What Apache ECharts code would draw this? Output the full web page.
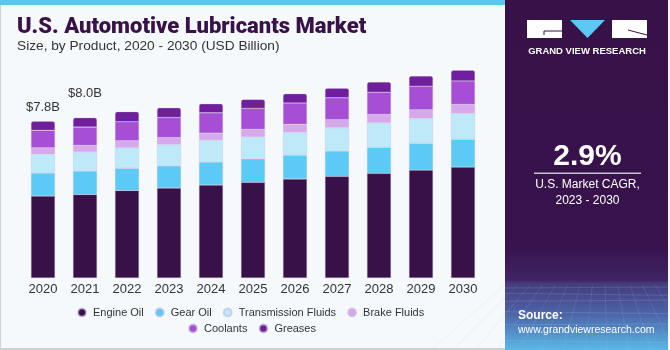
<!DOCTYPE html>
<html>
<head>
<meta charset="utf-8">
<script src="https://cdn.jsdelivr.net/npm/echarts@6/dist/echarts.min.js"></script>
<style>html,body{margin:0;padding:0;background:#F5F9FC}#c{width:670px;height:350px}</style>
</head>
<body>
<div id="c"></div>
<script>
const years = ['2020','2021','2022','2023','2024','2025','2026','2027','2028','2029','2030'];
const engineOil = [4.08,4.16,4.36,4.48,4.63,4.76,4.93,5.06,5.21,5.37,5.52];
const gearOil = [1.14,1.16,1.10,1.10,1.14,1.17,1.18,1.26,1.29,1.33,1.38];
const transmissionFluids = [0.94,0.95,1.02,1.06,1.09,1.09,1.14,1.16,1.22,1.24,1.29];
const brakeFluids = [0.32,0.33,0.35,0.35,0.35,0.38,0.40,0.40,0.42,0.43,0.45];
const coolants = [0.87,0.91,0.95,1.00,1.01,1.04,1.06,1.09,1.11,1.18,1.17];
const greases = [0.45,0.47,0.50,0.48,0.45,0.45,0.46,0.48,0.50,0.50,0.53];
const totalLabels = ['$7.8B','$8.0B','','','','','','','','',''];
const seriesNames = ['Engine Oil','Gear Oil','Transmission Fluids','Brake Fluids','Coolants','Greases'];
const seriesColors = ['#371148','#5BCBF5','#BDE9F9','#D7A9EC','#A64ED6','#6F1F9B'];
const seriesData = [engineOil,gearOil,transmissionFluids,brakeFluids,coolants,greases];
const labelDistance = [7,18];

const FONT = 'Liberation Sans';
const chart = echarts.init(document.getElementById('c'), null, {renderer:'canvas'});

const series = seriesData.map((arr,i)=>{
  const s = {
    name: seriesNames[i], type:'bar', stack:'total', barWidth:24,
    itemStyle:{color:seriesColors[i], borderColor:'rgba(200,185,220,0.6)', borderWidth:0.5},
    emphasis:{disabled:true},
    data: arr.slice()
  };
  if (i === seriesData.length-1) {
    s.itemStyle.borderRadius = [2,2,0,0];
    s.data = arr.map((v,j)=> totalLabels[j] ? {
      value:v,
      label:{show:true, position:'top', distance:labelDistance[j], formatter: totalLabels[j],
             fontFamily:FONT, fontSize:13, color:'#333'}
    } : v);
  }
  return s;
});

// decorative mesh lines for the panel footer
const mesh = [];
for (let k = 0; k < 7; k++) {
  const y = 288 + k * k * 1.3 + k * 4;
  mesh.push({type:'line', shape:{x1:505,y1:y,x2:668,y2:y+ (k%2 ? 2 : -1)}, style:{stroke:'rgba(170,200,240,0.22)', lineWidth:0.8}, z:1});
}
for (let k = 0; k < 14; k++) {
  const xt = 505 + k * 12.5;
  const xb = 505 + (k - 7) * 22 + 80;
  mesh.push({type:'line', shape:{x1:xt,y1:285,x2:xb,y2:350}, style:{stroke:'rgba(170,200,240,0.18)', lineWidth:0.8}, z:1});
}

const option = {
  backgroundColor:'#F5F9FC',
  animation:false,
  grid:{left:22, right:186, top:57, bottom:72},
  xAxis:{type:'category', data:years,
    axisLine:{show:false}, axisTick:{show:false},
    axisLabel:{fontFamily:FONT, fontSize:13, color:'#333', margin:5}},
  yAxis:{type:'value', min:0, max:11, show:false, splitLine:{show:false}},
  legend:[
    {data:seriesNames.slice(0,4), left:77, top:307, icon:'circle', itemWidth:8, itemHeight:8, itemGap:11, padding:0,
     textStyle:{fontFamily:FONT, fontSize:11, color:'#333', padding:[0,0,0,2]}},
    {data:seriesNames.slice(4), left:188, top:323, icon:'circle', itemWidth:8, itemHeight:8, itemGap:11, padding:0,
     textStyle:{fontFamily:FONT, fontSize:11, color:'#333', padding:[0,0,0,2]}}
  ],
  series: series,
  graphic:[
    {type:'rect', shape:{x:0,y:0,width:1,height:350}, style:{fill:'#cfd3d8'}, z:-1},
    {type:'rect', shape:{x:0,y:348,width:505,height:2}, style:{fill:'#d0d0d0'}, z:-1},
    {type:'rect', shape:{x:0,y:0,width:505,height:5}, style:{fill:'#5CC6EE'}, z:-1},
    {type:'text', left:17, top:16, style:{text:'U.S. Automotive Lubricants Market', fontFamily:'Roboto', fontWeight:900, fontSize:22, fill:'#371148'}},
    {type:'text', left:17, top:39.5, style:{text:'Size, by Product, 2020 - 2030 (USD Billion)', fontFamily:FONT, fontSize:13.7, fill:'#333'}},
    // right panel
    {type:'rect', shape:{x:505,y:0,width:163,height:350}, style:{fill:{type:'linear',x:0,y:0,x2:0,y2:1,colorStops:[
      {offset:0,color:'#371148'},{offset:0.7,color:'#38134c'},{offset:0.8,color:'#3f2464'},{offset:0.81,color:'#463a7c'},
      {offset:0.9,color:'#4d66a8'},{offset:1,color:'#5bb8e6'}]}}, z:0},
    ...mesh,
    {type:'rect', shape:{x:527,y:20,width:35,height:18}, style:{fill:'#ffffff'}, z:1},
    {type:'polyline', shape:{points:[[544,35],[544,31],[562,31]]}, style:{stroke:'#371148', lineWidth:1, fill:null}, z:2},
    {type:'polygon', shape:{points:[[570,20],[605,20],[587.5,38]]}, style:{fill:'#5BC8F5'}, z:1},
    {type:'rect', shape:{x:612,y:20,width:35,height:18}, style:{fill:'#ffffff'}, z:1},
    {type:'polyline', shape:{points:[[628,30],[647,35]]}, style:{stroke:'#371148', lineWidth:1, fill:null}, z:2},
    {type:'text', x:587, y:51, style:{text:'GRAND VIEW RESEARCH', fontFamily:FONT, fontWeight:'bold', fontSize:9.5, fill:'#ffffff', align:'center', verticalAlign:'middle'}, z:2},
    {type:'text', x:587.5, y:157, style:{text:'2.9%', fontFamily:FONT, fontWeight:'bold', fontSize:30, fill:'#ffffff', align:'center', verticalAlign:'middle'}, z:2},
    {type:'rect', shape:{x:534,y:172.5,width:107,height:1.5}, style:{fill:'#c9c3d3'}, z:2},
    {type:'text', x:587.5, y:185, style:{text:'U.S. Market CAGR,', fontFamily:FONT, fontSize:12, fill:'#ffffff', align:'center', verticalAlign:'middle'}, z:2},
    {type:'text', x:587.5, y:201, style:{text:'2023 - 2030', fontFamily:FONT, fontSize:12, fill:'#ffffff', align:'center', verticalAlign:'middle'}, z:2},
    {type:'text', x:518, y:316, style:{text:'Source:', fontFamily:FONT, fontWeight:'bold', fontSize:12, fill:'#ffffff', verticalAlign:'middle'}, z:2},
    {type:'text', x:518, y:330, style:{text:'www.grandviewresearch.com', fontFamily:FONT, fontSize:10.5, fill:'#ffffff', verticalAlign:'middle'}, z:2}
  ]
};
chart.setOption(option);
</script>
</body>
</html>
